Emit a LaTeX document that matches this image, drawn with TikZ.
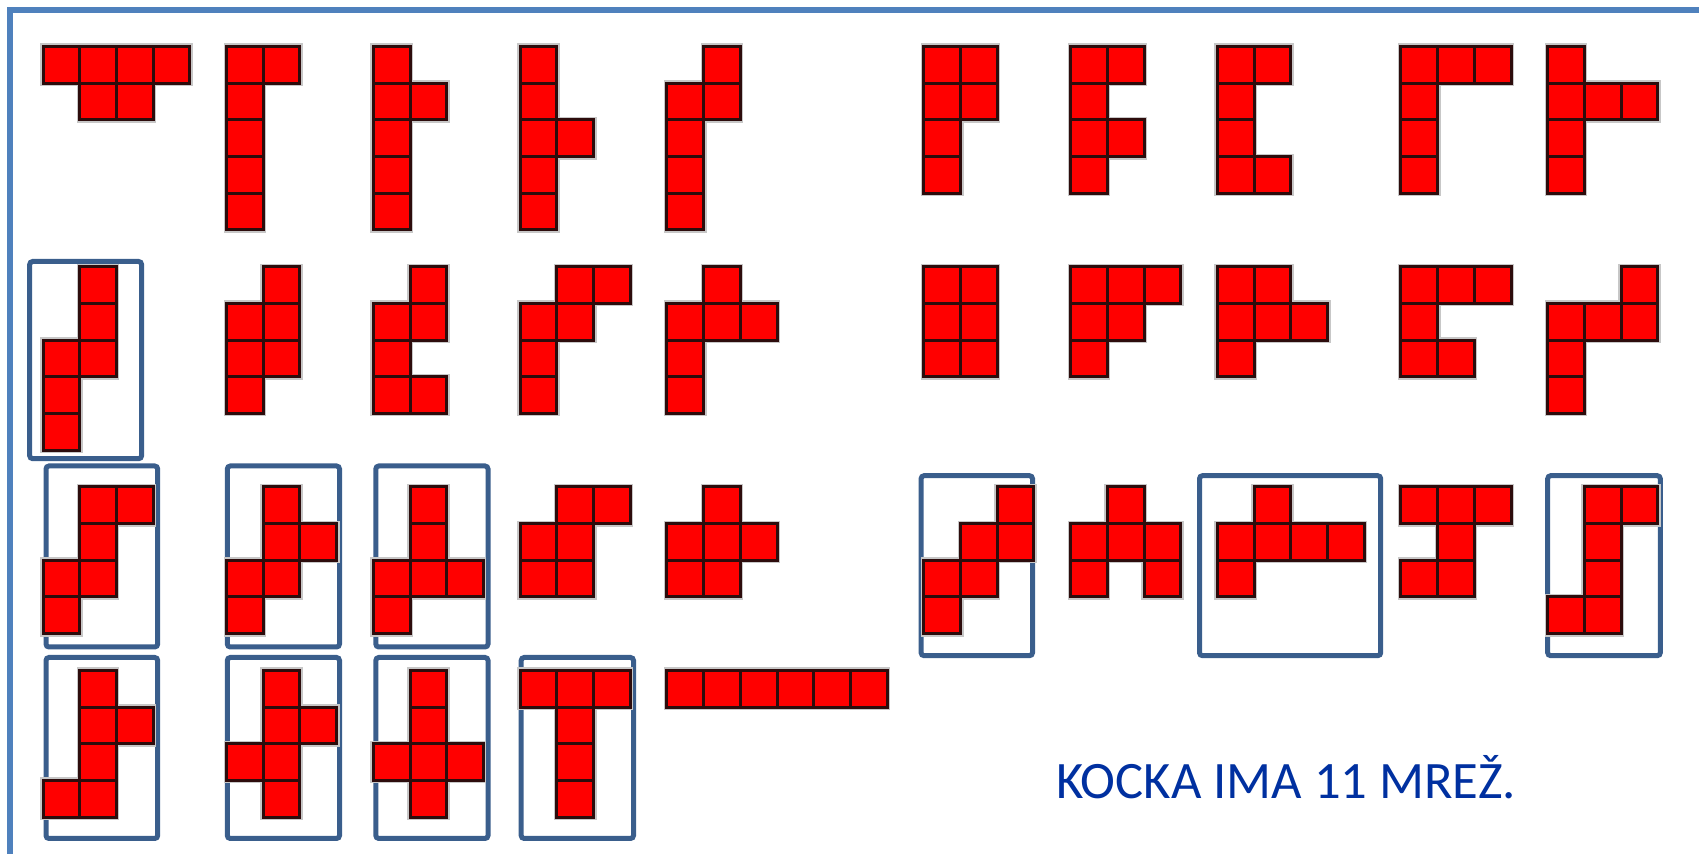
\documentclass[tikz,border=0pt]{standalone}
\usepackage{fontspec}
\newfontfamily\carlito{Carlito}
\definecolor{cellred}{RGB}{255,0,0}
\definecolor{celledge}{RGB}{45,12,12}
\definecolor{boxblue}{RGB}{58,94,140}
\definecolor{framebl}{RGB}{79,129,189}
\definecolor{textblue}{RGB}{0,48,160}
\def\hexlist{%
0/0,1/0,2/0,3/0,1/1,2/1,
5/0,6/0,5/1,5/2,5/3,5/4,
9/0,9/1,10/1,9/2,9/3,9/4,
13/0,13/1,13/2,14/2,13/3,13/4,
18/0,17/1,18/1,17/2,17/3,17/4,
24/0,25/0,24/1,25/1,24/2,24/3,
28/0,29/0,28/1,28/2,29/2,28/3,
32/0,33/0,32/1,32/2,32/3,33/3,
37/0,38/0,39/0,37/1,37/2,37/3,
41/0,41/1,42/1,43/1,41/2,41/3,
1/6,1/7,0/8,1/8,0/9,0/10,
6/6,5/7,6/7,5/8,6/8,5/9,
10/6,9/7,10/7,9/8,9/9,10/9,
14/6,15/6,13/7,14/7,13/8,13/9,
18/6,17/7,18/7,19/7,17/8,17/9,
24/6,25/6,24/7,25/7,24/8,25/8,
28/6,29/6,30/6,28/7,29/7,28/8,
32/6,33/6,32/7,33/7,34/7,32/8,
37/6,38/6,39/6,37/7,37/8,38/8,
43/6,41/7,42/7,43/7,41/8,41/9,
1/12,2/12,1/13,0/14,1/14,0/15,
6/12,6/13,7/13,5/14,6/14,5/15,
10/12,10/13,9/14,10/14,11/14,9/15,
14/12,15/12,13/13,14/13,13/14,14/14,
18/12,17/13,18/13,19/13,17/14,18/14,
26/12,25/13,26/13,24/14,25/14,24/15,
29/12,28/13,29/13,30/13,28/14,30/14,
33/12,32/13,33/13,34/13,35/13,32/14,
37/12,38/12,39/12,38/13,37/14,38/14,
42/12,43/12,42/13,42/14,41/15,42/15,
1/17,1/18,2/18,1/19,0/20,1/20,
6/17,6/18,7/18,5/19,6/19,6/20,
10/17,10/18,9/19,10/19,11/19,10/20,
13/17,14/17,15/17,14/18,14/19,14/20,
17/17,18/17,19/17,20/17,21/17,22/17}
\begin{document}
\begin{tikzpicture}[x=0.5pt,y=-0.5pt,
  halo/.style={fill=black!22},
  hexcell/.style={fill=cellred,draw=celledge,line width=1.5pt},
  netbox/.style={draw=boxblue,line width=2.5pt,rounded corners=1.5pt},
  frameline/.style={draw=framebl,line width=3pt},
  caption/.style={text=textblue,font=\carlito\fontsize{26.3}{30}\selectfont,anchor=base west,inner sep=0pt}]
\useasboundingbox (0,0) rectangle (1699,854);
% frame (top and left edges only)
\draw[frameline] (10,854) -- (10,10) -- (1699,10);
% boxes around marked nets
\draw[netbox] (29.7,261.5) rectangle (141.6,458.7);
\draw[netbox] (46,466) rectangle (157.7,647);
\draw[netbox] (227.3,466) rectangle (339.5,647);
\draw[netbox] (375.8,466) rectangle (488,647);
\draw[netbox] (46,657.5) rectangle (157.7,838.5);
\draw[netbox] (227.3,657.5) rectangle (339.5,838.5);
\draw[netbox] (375.8,657.5) rectangle (488,838.5);
\draw[netbox] (521.2,657.5) rectangle (633.5,838.5);
\draw[netbox] (921.1,475.7) rectangle (1032.5,655.7);
\draw[netbox] (1199.5,475.7) rectangle (1380.7,655.7);
\draw[netbox] (1547.7,475.7) rectangle (1660.3,655.7);
% hexomino cells
\foreach \k/\j in \hexlist {
  \fill[halo] ({43+\k*36.7-3},{46.5+\j*36.7-3}) rectangle +(42.7,42.7);
}
\foreach \k/\j in \hexlist {
  \path[hexcell] ({43+\k*36.7},{46.5+\j*36.7}) rectangle +(36.7,36.7);
}
\node[caption] (caption) at (1055.7,799) {KOCKA IMA 11 MREŽ.};
\end{tikzpicture}
\end{document}
